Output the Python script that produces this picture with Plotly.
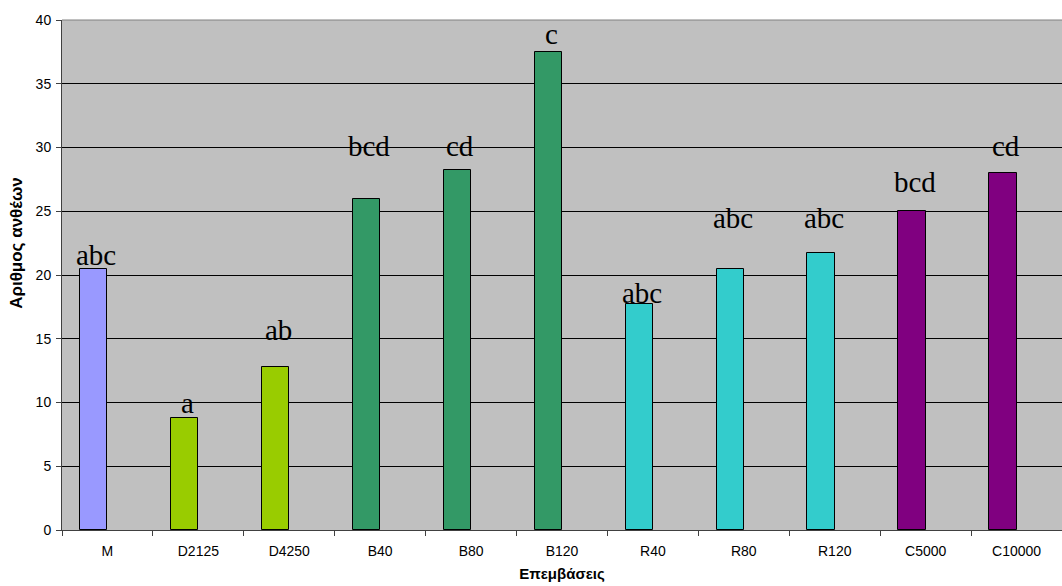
import plotly.graph_objects as go

categories = ["M", "D2125", "D4250", "B40", "B80", "B120", "R40", "R80", "R120", "C5000", "C10000"]
values = [20.5, 8.75, 12.75, 26.0, 28.25, 37.5, 17.75, 20.5, 21.75, 25.0, 28.0]
letters = ["abc", "a", "ab", "bcd", "cd", "c", "abc", "abc", "abc", "bcd", "cd"]
label_y = [21.6, 10.0, 15.7, 30.1, 30.1, 38.9, 18.6, 24.5, 24.5, 27.3, 30.1]
bar_colors = ["#9999FF", "#99CC00", "#99CC00", "#339966", "#339966", "#339966",
              "#33CCCC", "#33CCCC", "#33CCCC", "#800080", "#800080"]
y_ticks = [0, 5, 10, 15, 20, 25, 30, 35, 40]

fig = go.Figure()
fig.add_trace(go.Bar(
    x=categories, y=values,
    marker=dict(color=bar_colors, line=dict(color="black", width=1)),
    offset=-0.3, width=0.3,
    hoverinfo="x+y",
))

for c, t, ly in zip(categories, letters, label_y):
    fig.add_annotation(
        x=c, y=ly, text=t, showarrow=False, xshift=-11,
        font=dict(family="Liberation Serif, Times New Roman, serif", size=29, color="black"),
        yanchor="middle", xanchor="center",
    )

# y-axis title
fig.add_annotation(
    xref="paper", yref="paper", x=0, y=0.563, xshift=-45,
    text="<b>Αριθμος ανθέων</b>", textangle=-90, showarrow=False,
    xanchor="center", yanchor="middle",
    font=dict(family="Arial, Liberation Sans, sans-serif", size=17, color="black"),
)

fig.update_layout(
    width=1062, height=586,
    margin=dict(l=62, r=0, t=20, b=56),
    paper_bgcolor="white", plot_bgcolor="#C0C0C0",
    showlegend=False,
    bargap=0,
    font=dict(family="Arial, Liberation Sans, sans-serif", size=14, color="black"),
)
fig.update_xaxes(
    type="category",
    showline=True, linecolor="#404040", linewidth=1, mirror=False,
    ticks="outside", tickson="boundaries", ticklen=5, tickcolor="#404040",
    ticklabelstandoff=8,
    showgrid=False,
    title=dict(text="<b>Επεμβάσεις</b>", font=dict(size=15), standoff=10),
    tickfont=dict(size=14),
)
fig.update_yaxes(
    range=[0, 40], tickvals=y_ticks,
    showline=True, linecolor="#404040", linewidth=1,
    ticks="outside", ticklen=5, tickcolor="#404040",
    ticklabelstandoff=2,
    showgrid=True, gridcolor="black", gridwidth=1,
    zeroline=False,
    tickfont=dict(size=14),
)
fig.add_shape(type="line", xref="paper", yref="paper", x0=0, x1=1, y0=1, y1=1,
              line=dict(color="#808080", width=1))

fig.write_html("out.html", config={"displayModeBar": False},
               post_script="document.body.style.margin='0';")
